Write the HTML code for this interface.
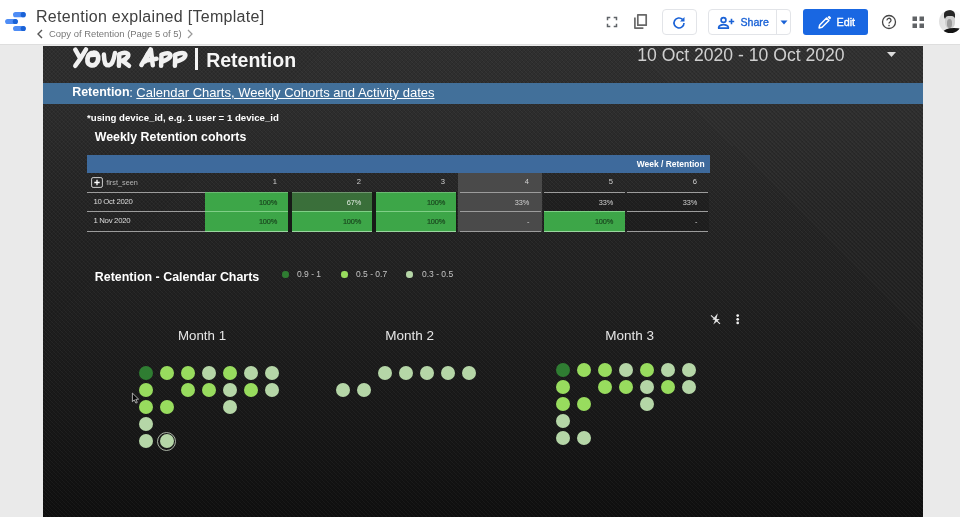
<!DOCTYPE html>
<html><head><meta charset="utf-8">
<style>
*{box-sizing:border-box;margin:0;padding:0}
html,body{width:960px;height:517px;overflow:hidden;background:#eaeaea;font-family:"Liberation Sans",sans-serif;}
.abs{position:absolute}
#hdr{position:absolute;left:0;top:0;width:960px;height:45px;background:#fff;border-bottom:1px solid #dedede;will-change:transform}
#canvas{position:absolute;left:43px;top:46px;width:880px;height:471px;will-change:transform;background:linear-gradient(#2f2f2f 0px,#2d2d2d 60px,#252525 160px,#202020 250px,#171717 380px,#0f0f0f 471px);overflow:hidden}
.t{position:absolute;white-space:nowrap;color:#fff}
.dot{position:absolute;width:14px;height:14px;border-radius:50%}
.d1{background:#2f7d32}.d2{background:#98dc5e}.d3{background:#b5d6a7}
</style></head><body>
<div id="hdr">
  <svg class="abs" style="left:4px;top:8px" width="24" height="26" viewBox="0 0 24 26">
    <rect x="9" y="4.1" width="12.8" height="5.1" rx="2.55" fill="#4f8df5"/><circle cx="19.2" cy="6.65" r="2.55" fill="#1a62d6"/>
    <rect x="1.1" y="10.9" width="12.8" height="5.1" rx="2.55" fill="#4f8df5"/><circle cx="11.3" cy="13.45" r="2.55" fill="#1a62d6"/>
    <rect x="9" y="17.95" width="12.8" height="5.1" rx="2.55" fill="#4f8df5"/><circle cx="19.2" cy="20.5" r="2.55" fill="#1a62d6"/>
  </svg>
  <div class="t" style="left:36px;top:7.7px;font-size:16px;letter-spacing:0.29px;color:#404040">Retention explained [Template]</div>
  <div class="t" style="left:49px;top:27.7px;font-size:9.45px;color:#777">Copy of Retention (Page 5 of 5)</div>
  <svg class="abs" style="left:36px;top:28px" width="8" height="12" viewBox="0 0 8 12"><path d="M6 2 L2 6 L6 10" stroke="#555" stroke-width="1.4" fill="none"/></svg>
  <svg class="abs" style="left:186px;top:28px" width="8" height="12" viewBox="0 0 8 12"><path d="M2 2 L6 6 L2 10" stroke="#999" stroke-width="1.2" fill="none"/></svg>
  <!-- fullscreen -->
  <svg class="abs" style="left:605.7px;top:15.6px" width="12" height="12" viewBox="0 0 12 12"><path d="M1.5 4.3V1.5H4.3M7.7 1.5H10.5V4.3M10.5 7.7V10.5H7.7M4.3 10.5H1.5V7.7" stroke="#5f6368" stroke-width="1.5" fill="none"/></svg>
  <!-- copy -->
  <svg class="abs" style="left:633px;top:13px" width="16" height="17" viewBox="0 0 16 17"><path d="M4.8 1.8H13.2V12.2H4.8Z" stroke="#686868" stroke-width="1.7" fill="none" stroke-linejoin="round"/><path d="M1.9 4.6V15.1H10.4" stroke="#686868" stroke-width="1.7" fill="none" stroke-linejoin="round"/></svg>
  <!-- refresh btn -->
  <div class="abs" style="left:662px;top:9px;width:35px;height:26px;border:1px solid #e2e4e8;border-radius:4px"></div>
  <svg class="abs" style="left:671px;top:14.7px" width="16" height="16" viewBox="0 0 16 16"><path d="M13 8a5 5 0 1 1-1.5-3.6" stroke="#1a62d6" stroke-width="1.6" fill="none"/><path d="M13.5 2V6.5H9Z" fill="#1a62d6"/></svg>
  <!-- share -->
  <div class="abs" style="left:708px;top:9px;width:83px;height:26px;border:1px solid #e2e4e8;border-radius:4px"></div>
  <div class="abs" style="left:776px;top:9px;width:1px;height:26px;background:#e2e4e8"></div>
  <svg class="abs" style="left:716.5px;top:16px" width="18" height="14" viewBox="0 0 18 14"><circle cx="6.5" cy="4" r="2.4" stroke="#1a62d6" stroke-width="1.7" fill="none"/><path d="M1.7 12.2V11.2c0-1.6 3-2.5 4.8-2.5s4.8 .9 4.8 2.5v1Z" stroke="#1a62d6" stroke-width="1.7" fill="none" stroke-linejoin="round"/><path d="M14.5 2.8V8.2M11.8 5.5H17.2" stroke="#1a62d6" stroke-width="1.6"/></svg>
  <div class="t" style="left:740.5px;top:16px;font-size:10.6px;color:#1a62d6;-webkit-text-stroke:0.35px #1a62d6">Share</div>
  <svg class="abs" style="left:780px;top:20px" width="8" height="5" viewBox="0 0 8 5"><path d="M0.5 0.5H7.5L4 4.5Z" fill="#1a62d6"/></svg>
  <!-- edit -->
  <div class="abs" style="left:803px;top:9px;width:65px;height:26px;background:#1967e2;border-radius:3px"></div>
  <svg class="abs" style="left:817.2px;top:15.2px" width="15" height="15" viewBox="0 0 16 16"><path d="M2.2 13.8L2.9 10.6L10.2 3.3L12.7 5.8L5.4 13.1Z" stroke="#fff" stroke-width="1.6" fill="none" stroke-linejoin="round"/><path d="M11.2 2.3L12.2 1.3a1 1 0 0 1 1.4 0L14.7 2.4a1 1 0 0 1 0 1.4L13.7 4.8Z" fill="#fff"/></svg>
  <div class="t" style="left:836.5px;top:15.7px;font-size:10.8px;color:#fff;-webkit-text-stroke:0.35px #fff">Edit</div>
  <!-- help -->
  <svg class="abs" style="left:881px;top:14px" width="16" height="16" viewBox="0 0 16 16"><circle cx="8" cy="8" r="6.5" stroke="#444" stroke-width="1.3" fill="none"/><path d="M6 6.4a2 2 0 1 1 3 1.6c-.7.5-1 .8-1 1.6" stroke="#444" stroke-width="1.3" fill="none"/><circle cx="8" cy="11.6" r=".8" fill="#444"/></svg>
  <!-- apps -->
  <svg class="abs" style="left:911.8px;top:16.2px" width="13" height="13" viewBox="0 0 13 13"><rect x="0.5" y="0.5" width="4.5" height="4.5" fill="#606366"/><rect x="7.5" y="0.5" width="4.5" height="4.5" fill="#606366"/><rect x="0.5" y="7.5" width="4.5" height="4.5" fill="#606366"/><rect x="7.5" y="7.5" width="4.5" height="4.5" fill="#606366"/></svg>
  <!-- avatar -->
  <div class="abs" style="left:939px;top:10px;width:23.4px;height:23.4px;border-radius:50%;background:linear-gradient(90deg,#e0e0e0 0%,#e6e6e6 30%,#f8f8f8 72%);overflow:hidden">
    <div class="abs" style="left:4.8px;top:0.2px;width:11.6px;height:9px;border-radius:50% 55% 25% 25%;background:#262626"></div>
    <div class="abs" style="left:6.2px;top:6.3px;width:9.6px;height:13px;border-radius:35% 35% 50% 50%;background:#cfcfcf"></div>
    <div class="abs" style="left:7.6px;top:9px;width:5.6px;height:8.5px;border-radius:50%;background:#9c9c9c"></div>
    <div class="abs" style="left:3.5px;top:18.2px;width:22px;height:9px;border-radius:50% 50% 0 0;background:#141414"></div>
  </div>
</div>
<div id="canvas"><div class="abs" style="left:0;top:0;width:880px;height:472px;background-image:repeating-linear-gradient(45deg,rgba(255,255,255,.035) 0 1px,rgba(0,0,0,0) 1px 2.83px),repeating-linear-gradient(-45deg,rgba(0,0,0,.10) 0 1px,rgba(0,0,0,0) 1px 2.83px)"></div><div class="abs" style="left:0;top:-1px;width:880px;height:472px">
  <svg class="abs" style="left:0;top:0" width="200" height="40" viewBox="43 45 200 40"><g stroke="#f1f1f1" stroke-width="4.5" fill="none" stroke-linecap="round" stroke-linejoin="round">
<path d="M75.3 49.6L80.4 58.6M86 49.4L80.4 58.6L75.3 65.8"/>
<path d="M93 52.8C88.8 53 86.8 58 87.5 61.6C88.3 65.3 92.6 66.3 95.6 64.2C98.5 62 99 56.8 97.1 54.1C96.2 53 94.6 52.6 93 52.8Z" stroke-width="4.8"/><path d="M90.5 55.5L95.5 55.2" stroke-width="3.5"/>
<path d="M103.9 54.6C104.1 58 104.2 61.6 105.6 64C107.4 66.2 110.6 65.6 112.2 62.6C113.6 59.6 114.5 56 115 53"/>
<path d="M119.3 55L118.9 65.8M119.2 54.2C122 52.9 125.5 52.2 127.4 53.5C129.3 55.2 128.2 58 122.4 60.8L129 65.8"/>
<path d="M150.6 49.4L141.4 65M150.8 49.4L152.8 65.2M145.8 60.6L156.6 58.8"/><path d="M148.2 54L145 61" stroke-width="5.2"/>
<path d="M161.5 55.7L161.1 65.8M161.4 54.8C164.4 53.5 168 52.7 169.7 53.9C171.5 55.5 170.6 58.4 163 61.4"/>
<path d="M175.3 55.7L174.9 65.8M175.2 54.8C178.6 53.3 182.4 52.4 184.4 53.5C186.5 55.3 185.4 58.6 176.8 61.4"/>
</g></svg>
  <div class="abs" style="left:151.9px;top:3.2px;width:2.7px;height:22.2px;background:#f4f4f4"></div>
  <div class="t" style="left:163.2px;top:4.3px;font-size:19.5px;font-weight:bold;color:#f6f6f6">Retention</div>
  <div class="t" style="left:594.3px;top:-0.5px;font-size:17.6px;color:#cfcfcf">10 Oct 2020 - 10 Oct 2020</div>
  <svg class="abs" style="left:844px;top:7px" width="9" height="5" viewBox="0 0 9 5"><path d="M0 0H9L4.5 5Z" fill="#ddd"/></svg>
  <div class="abs" style="left:0;top:37.5px;width:880px;height:21px;background:#42709a"></div>
  <div class="t" style="left:29.2px;top:40.2px;font-size:12.45px;font-weight:bold">Retention</div><div class="t" style="left:86.3px;top:40px;font-size:13px">:</div><div class="t" style="left:93.3px;top:40px;font-size:13px;text-decoration:underline">Calendar Charts, Weekly Cohorts and Activity dates</div>
  <div class="t" style="left:44px;top:67px;font-size:9.65px;font-weight:bold">*using device_id, e.g. 1 user = 1 device_id</div>
  <div class="t" style="left:51.8px;top:85.2px;font-size:12.36px;font-weight:bold">Weekly Retention cohorts</div>
  <!-- table -->
      <div class="abs" style="left:44px;top:110px;width:623px;height:18px;background:#3e6a9c"></div><div class="t" style="left:561.60px;width:100px;text-align:right;top:114.63px;line-height:1;font-size:8.45px;color:#fff;font-weight:bold;">Week / Retention</div><div class="abs" style="left:415px;top:128px;width:84px;height:59px;background:#4a4a4a"></div><div class="abs" style="left:162px;top:147px;width:252px;height:40px;background:#171b17"></div><div class="abs" style="left:500px;top:148px;width:166px;height:38px;background:rgba(0,0,0,0.14)"></div><div class="abs" style="left:162.0px;top:147px;width:83.3px;height:19.5px;background:#3da648"></div><div class="abs" style="left:248.7px;top:147px;width:80.7px;height:19.5px;background:#3a6f3a"></div><div class="abs" style="left:332.6px;top:147px;width:80.7px;height:19.5px;background:#3da648"></div><div class="abs" style="left:162.0px;top:166.5px;width:83.3px;height:20.5px;background:#3da648"></div><div class="abs" style="left:248.7px;top:166.5px;width:80.7px;height:20.5px;background:#3da648"></div><div class="abs" style="left:332.6px;top:166.5px;width:80.7px;height:20.5px;background:#3da648"></div><div class="abs" style="left:500.6px;top:166.5px;width:81.0px;height:20.5px;background:#3da648"></div><div class="abs" style="left:44px;top:147px;width:118px;height:1px;background:#9c9c9c"></div><div class="abs" style="left:162px;top:147px;width:83.3px;height:1px;background:#6cba73"></div><div class="abs" style="left:248.7px;top:147px;width:80.7px;height:1px;background:#6f956f"></div><div class="abs" style="left:332.6px;top:147px;width:80.7px;height:1px;background:#6cba73"></div><div class="abs" style="left:416.5px;top:147px;width:81.5px;height:1px;background:#9c9c9c"></div><div class="abs" style="left:500.6px;top:147px;width:81.0px;height:1px;background:#9c9c9c"></div><div class="abs" style="left:584.4px;top:147px;width:81.1px;height:1px;background:#9c9c9c"></div><div class="abs" style="left:44px;top:166px;width:118px;height:1px;background:#9c9c9c"></div><div class="abs" style="left:162px;top:166px;width:83.3px;height:1px;background:#7fcf86"></div><div class="abs" style="left:248.7px;top:166px;width:80.7px;height:1px;background:#7fcf86"></div><div class="abs" style="left:332.6px;top:166px;width:80.7px;height:1px;background:#7fcf86"></div><div class="abs" style="left:416.5px;top:166px;width:81.5px;height:1px;background:#9c9c9c"></div><div class="abs" style="left:500.6px;top:166px;width:81.0px;height:1px;background:#7fcf86"></div><div class="abs" style="left:584.4px;top:166px;width:81.1px;height:1px;background:#9c9c9c"></div><div class="abs" style="left:44px;top:186px;width:118px;height:1px;background:#9c9c9c"></div><div class="abs" style="left:162px;top:186px;width:83.3px;height:1px;background:#9ad79f"></div><div class="abs" style="left:248.7px;top:186px;width:80.7px;height:1px;background:#9ad79f"></div><div class="abs" style="left:332.6px;top:186px;width:80.7px;height:1px;background:#9ad79f"></div><div class="abs" style="left:416.5px;top:186px;width:81.5px;height:1px;background:#9c9c9c"></div><div class="abs" style="left:500.6px;top:186px;width:81.0px;height:1px;background:#9ad79f"></div><div class="abs" style="left:584.4px;top:186px;width:81.1px;height:1px;background:#9c9c9c"></div><div class="t" style="left:134.10px;width:100px;text-align:right;top:133.14px;line-height:1;font-size:7.6px;color:#cfcfcf;">1</div><div class="t" style="left:134.20px;width:100px;text-align:right;top:153.73px;line-height:1;font-size:7.4px;color:#1b4a20;letter-spacing:-0.15px;-webkit-text-stroke:0.2px #1b4a20;">100%</div><div class="t" style="left:134.20px;width:100px;text-align:right;top:173.03px;line-height:1;font-size:7.4px;color:#1b4a20;letter-spacing:-0.15px;-webkit-text-stroke:0.2px #1b4a20;">100%</div><div class="t" style="left:218.10px;width:100px;text-align:right;top:133.14px;line-height:1;font-size:7.6px;color:#cfcfcf;">2</div><div class="t" style="left:218.20px;width:100px;text-align:right;top:153.73px;line-height:1;font-size:7.4px;color:#e4ece4;letter-spacing:-0.15px;">67%</div><div class="t" style="left:218.20px;width:100px;text-align:right;top:173.03px;line-height:1;font-size:7.4px;color:#1b4a20;letter-spacing:-0.15px;-webkit-text-stroke:0.2px #1b4a20;">100%</div><div class="t" style="left:302.10px;width:100px;text-align:right;top:133.14px;line-height:1;font-size:7.6px;color:#cfcfcf;">3</div><div class="t" style="left:302.20px;width:100px;text-align:right;top:153.73px;line-height:1;font-size:7.4px;color:#1b4a20;letter-spacing:-0.15px;-webkit-text-stroke:0.2px #1b4a20;">100%</div><div class="t" style="left:302.20px;width:100px;text-align:right;top:173.03px;line-height:1;font-size:7.4px;color:#1b4a20;letter-spacing:-0.15px;-webkit-text-stroke:0.2px #1b4a20;">100%</div><div class="t" style="left:386.10px;width:100px;text-align:right;top:133.14px;line-height:1;font-size:7.6px;color:#cfcfcf;">4</div><div class="t" style="left:386.20px;width:100px;text-align:right;top:153.73px;line-height:1;font-size:7.4px;color:#d4d4d4;letter-spacing:-0.15px;">33%</div><div class="t" style="left:386.20px;width:100px;text-align:right;top:173.03px;line-height:1;font-size:7.4px;color:#d4d4d4;letter-spacing:-0.15px;">-</div><div class="t" style="left:470.10px;width:100px;text-align:right;top:133.14px;line-height:1;font-size:7.6px;color:#cfcfcf;">5</div><div class="t" style="left:470.20px;width:100px;text-align:right;top:153.73px;line-height:1;font-size:7.4px;color:#d4d4d4;letter-spacing:-0.15px;">33%</div><div class="t" style="left:470.20px;width:100px;text-align:right;top:173.03px;line-height:1;font-size:7.4px;color:#1b4a20;letter-spacing:-0.15px;-webkit-text-stroke:0.2px #1b4a20;">100%</div><div class="t" style="left:554.10px;width:100px;text-align:right;top:133.14px;line-height:1;font-size:7.6px;color:#cfcfcf;">6</div><div class="t" style="left:554.20px;width:100px;text-align:right;top:153.73px;line-height:1;font-size:7.4px;color:#d4d4d4;letter-spacing:-0.15px;">33%</div><div class="t" style="left:554.20px;width:100px;text-align:right;top:173.03px;line-height:1;font-size:7.4px;color:#d4d4d4;letter-spacing:-0.15px;">-</div><div class="t" style="left:50.40px;top:153.04px;line-height:1;font-size:7.8px;color:#dcdcdc;letter-spacing:-0.3px;">10 Oct 2020</div><div class="t" style="left:50.40px;top:172.44px;line-height:1;font-size:7.8px;color:#dcdcdc;letter-spacing:-0.3px;">1 Nov 2020</div><div class="t" style="left:63.20px;top:133.78px;line-height:1;font-size:7.3px;color:#b4b4b4;">first_seen</div><svg class="abs" style="left:48px;top:132px" width="12" height="12" viewBox="0 0 12 12"><rect x="0.6" y="0.6" width="10.8" height="9.8" rx="1.5" stroke="#d0d0d0" stroke-width="1" fill="none"/><path d="M6 2.8V8.2M3.3 5.5H8.7" stroke="#fff" stroke-width="1.3"/></svg>
  <div class="t" style="left:51.8px;top:225.1px;font-size:12.44px;font-weight:bold">Retention - Calendar Charts</div>
  <div class="dot d1" style="left:239px;top:226.3px;width:6.5px;height:6.5px"></div>
  <div class="t" style="left:254px;top:224.1px;font-size:8.5px;color:#c4c4c4">0.9 - 1</div>
  <div class="dot d2" style="left:298px;top:226.3px;width:6.5px;height:6.5px"></div>
  <div class="t" style="left:313px;top:224.1px;font-size:8.5px;color:#c4c4c4">0.5 - 0.7</div>
  <div class="dot d3" style="left:363px;top:226.3px;width:6.5px;height:6.5px"></div>
  <div class="t" style="left:379px;top:224.1px;font-size:8.5px;color:#c4c4c4">0.3 - 0.5</div>
  <div class="t" style="left:135px;top:283.1px;font-size:13.3px;color:#e6e6e6">Month 1</div>
  <div class="t" style="left:342.3px;top:283.1px;font-size:13.5px;color:#e6e6e6">Month 2</div>
  <div class="t" style="left:562.2px;top:283.1px;font-size:13.5px;color:#e6e6e6">Month 3</div>
  <div class="dot d1" style="left:95.8px;top:321.3px"></div><div class="dot d2" style="left:116.8px;top:321.3px"></div><div class="dot d2" style="left:137.7px;top:321.3px"></div><div class="dot d3" style="left:158.7px;top:321.3px"></div><div class="dot d2" style="left:179.7px;top:321.3px"></div><div class="dot d3" style="left:200.7px;top:321.3px"></div><div class="dot d3" style="left:221.6px;top:321.3px"></div><div class="dot d2" style="left:95.8px;top:338.3px"></div><div class="dot d2" style="left:137.7px;top:338.3px"></div><div class="dot d2" style="left:158.7px;top:338.3px"></div><div class="dot d3" style="left:179.7px;top:338.3px"></div><div class="dot d2" style="left:200.7px;top:338.3px"></div><div class="dot d3" style="left:221.6px;top:338.3px"></div><div class="dot d2" style="left:95.8px;top:355.3px"></div><div class="dot d2" style="left:116.8px;top:355.3px"></div><div class="dot d3" style="left:179.7px;top:355.3px"></div><div class="dot d3" style="left:95.8px;top:372.3px"></div><div class="dot d3" style="left:95.8px;top:389.3px"></div><div class="dot d3" style="left:116.8px;top:389.3px"></div><div class="dot d3" style="left:335.3px;top:321.4px"></div><div class="dot d3" style="left:356.3px;top:321.4px"></div><div class="dot d3" style="left:377.3px;top:321.4px"></div><div class="dot d3" style="left:398.2px;top:321.4px"></div><div class="dot d3" style="left:419.2px;top:321.4px"></div><div class="dot d3" style="left:293.4px;top:338.4px"></div><div class="dot d3" style="left:314.4px;top:338.4px"></div><div class="dot d1" style="left:513.1px;top:317.7px"></div><div class="dot d2" style="left:534.1px;top:317.7px"></div><div class="dot d2" style="left:555.0px;top:317.7px"></div><div class="dot d3" style="left:576.0px;top:317.7px"></div><div class="dot d2" style="left:597.0px;top:317.7px"></div><div class="dot d3" style="left:618.0px;top:317.7px"></div><div class="dot d3" style="left:638.9px;top:317.7px"></div><div class="dot d2" style="left:513.1px;top:334.7px"></div><div class="dot d2" style="left:555.0px;top:334.7px"></div><div class="dot d2" style="left:576.0px;top:334.7px"></div><div class="dot d3" style="left:597.0px;top:334.7px"></div><div class="dot d2" style="left:618.0px;top:334.7px"></div><div class="dot d3" style="left:638.9px;top:334.7px"></div><div class="dot d2" style="left:513.1px;top:351.7px"></div><div class="dot d2" style="left:534.1px;top:351.7px"></div><div class="dot d3" style="left:597.0px;top:351.7px"></div><div class="dot d3" style="left:513.1px;top:368.7px"></div><div class="dot d3" style="left:513.1px;top:385.7px"></div><div class="dot d3" style="left:534.1px;top:385.7px"></div><div class="abs" style="left:114.3px;top:386.8px;width:19px;height:19px;border-radius:50%;border:1px solid rgba(216,228,210,0.75)"></div>
  <svg class="abs" style="left:660px;top:260px" width="50" height="30" viewBox="703 305 50 30"><path d="M717.8 313.2L712.4 319.8H715.2L713.3 324.6L719.8 319H716.5Z" fill="#dcdcdc"/><path d="M711 315.3L720 323.8" stroke="#e8e8e8" stroke-width="1.1"/><circle cx="737.7" cy="315.6" r="1.35" fill="#f0f0f0"/><circle cx="737.7" cy="319.3" r="1.35" fill="#f0f0f0"/><circle cx="737.7" cy="322.9" r="1.35" fill="#f0f0f0"/></svg>
  <svg class="abs" style="left:77px;top:340px" width="30" height="30" viewBox="120 385 30 30"><path d="M132.4 393.1V401.6L134.3 399.9L135.9 403.1L137.3 402.4L135.8 399.4L138.6 399.1Z" fill="#050505" stroke="#d0d0d0" stroke-width="0.8" stroke-linejoin="round"/></svg>
</div></div>
</body></html>
